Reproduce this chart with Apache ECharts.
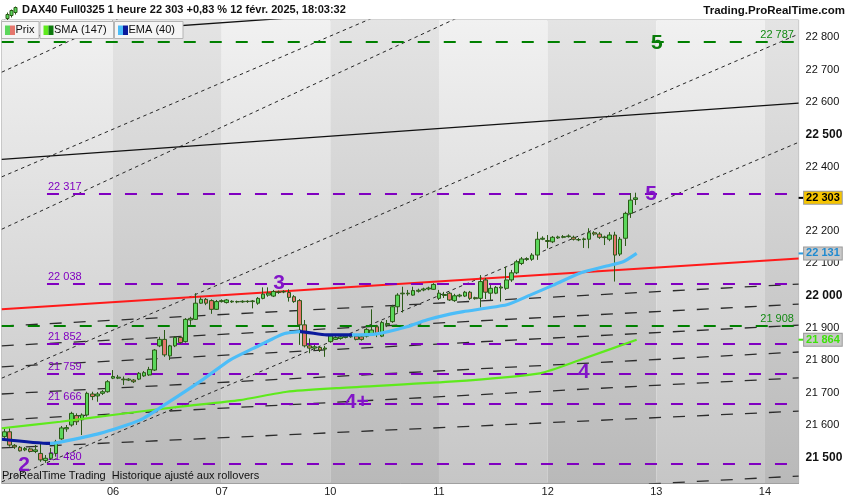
<!DOCTYPE html>
<html>
<head>
<meta charset="utf-8">
<title>DAX40 Full0325 1 heure</title>
<script src="https://cdn.jsdelivr.net/npm/echarts@6/dist/echarts.min.js"></script>
<style>
  html, body { margin: 0; padding: 0; background: #fff; }
  #chart { width: 850px; height: 500px; }
</style>
</head>
<body>
<div id="chart"></div>
<script>
// trading days shown on the axis, 21 hourly bars per day
const days = ['05', '06', '07', '10', '11', '12', '13', '14'];
const barsPerDay = 21;
const barCount = 154;

// hourly candles: [open, close, low, high]
const candles = [
  [21564, 21579, 21559, 21590], [21579, 21538, 21533, 21590], [21537, 21532, 21526, 21541],
  [21531, 21520, 21518, 21535], [21523, 21527, 21519, 21532], [21526, 21518, 21515, 21530],
  [21518, 21523, 21513, 21538], [21512, 21492, 21486, 21543], [21490, 21497, 21483, 21507],
  [21497, 21512, 21492, 21529], [21512, 21548, 21502, 21554], [21557, 21591, 21554, 21597],
  [21588, 21592, 21579, 21600], [21600, 21636, 21595, 21641], [21629, 21610, 21600, 21636],
  [21616, 21631, 21569, 21636], [21631, 21698, 21626, 21703], [21696, 21688, 21677, 21703],
  [21690, 21696, 21672, 21702], [21698, 21703, 21693, 21708], [21703, 21734, 21700, 21739],
  [21745, 21750, 21742, 21770], [21745, 21748, 21742, 21755], [21742, 21740, 21724, 21750],
  [21739, 21742, 21736, 21745], [21739, 21734, 21730, 21742], [21742, 21760, 21739, 21764],
  [21752, 21762, 21749, 21767], [21755, 21772, 21752, 21780], [21770, 21832, 21767, 21835],
  [21845, 21865, 21841, 21873], [21865, 21817, 21811, 21894], [21814, 21845, 21801, 21848],
  [21845, 21871, 21841, 21875], [21871, 21855, 21851, 21875], [21858, 21927, 21855, 21931],
  [21925, 21930, 21910, 21935], [21927, 21977, 21925, 22008], [21977, 21989, 21975, 21995],
  [21989, 21977, 21971, 21993], [21985, 21958, 21944, 21989], [21958, 21982, 21956, 21987],
  [21982, 21985, 21979, 21989], [21979, 21987, 21976, 21990], [21981, 21983, 21978, 21986],
  [21982, 21981, 21977, 21985], [21981, 21983, 21978, 21986], [21983, 21982, 21978, 21986],
  [21982, 21984, 21961, 21987], [21977, 21992, 21972, 21996], [21992, 22005, 21989, 22026],
  [22002, 22008, 21997, 22026], [21999, 22013, 21996, 22018], [22010, 22012, 22006, 22016],
  [22012, 22013, 22008, 22017], [22010, 21995, 21982, 22020], [21997, 21982, 21978, 22002],
  [21985, 21910, 21848, 21990], [21910, 21845, 21840, 21925], [21845, 21838, 21822, 21868],
  [21838, 21842, 21832, 21848], [21840, 21832, 21826, 21845], [21835, 21838, 21811, 21845],
  [21858, 21876, 21855, 21879], [21865, 21871, 21863, 21875], [21868, 21873, 21864, 21877],
  [21871, 21875, 21868, 21879], [21873, 21879, 21870, 21883], [21875, 21865, 21862, 21879],
  [21873, 21865, 21861, 21877], [21875, 21896, 21871, 21900], [21882, 21894, 21879, 21958],
  [21904, 21882, 21872, 21910], [21875, 21917, 21872, 21922], [21910, 21914, 21903, 21925],
  [21920, 21966, 21916, 21972], [21966, 22002, 21948, 22008], [22006, 22008, 21948, 22028],
  [22006, 22008, 22000, 22018], [22002, 22016, 22000, 22028], [22014, 22017, 22010, 22022],
  [22018, 22021, 22014, 22025], [22021, 22024, 22017, 22028], [22020, 22035, 22018, 22039],
  [21992, 22008, 21987, 22018], [22001, 22004, 21993, 22012], [22008, 21987, 21984, 22012],
  [21985, 22000, 21981, 22006], [21999, 22002, 21995, 22006], [21999, 22011, 21996, 22015],
  [22011, 21992, 21987, 22015], [21994, 21991, 21988, 21997], [21992, 22044, 21964, 22064],
  [22049, 22011, 21990, 22055], [22008, 22023, 21987, 22033], [22008, 22026, 22005, 22030],
  [22024, 22027, 21982, 22033], [22023, 22049, 22018, 22090], [22049, 22071, 22043, 22080],
  [22071, 22105, 22067, 22111], [22100, 22114, 22095, 22120], [22112, 22115, 22108, 22119],
  [22113, 22126, 22108, 22132], [22126, 22175, 22111, 22198], [22175, 22178, 22172, 22184],
  [22171, 22168, 22147, 22188], [22167, 22181, 22163, 22185], [22179, 22182, 22176, 22186],
  [22181, 22183, 22178, 22188], [22183, 22185, 22180, 22190], [22181, 22175, 22171, 22186],
  [22174, 22173, 22169, 22179], [22174, 22176, 22148, 22180], [22175, 22195, 22147, 22209],
  [22195, 22191, 22186, 22200], [22191, 22181, 22176, 22197], [22180, 22182, 22157, 22186],
  [22175, 22188, 22169, 22197], [22188, 22126, 22044, 22198], [22129, 22175, 22123, 22182],
  [22178, 22255, 22154, 22260], [22255, 22296, 22241, 22318], [22298, 22303, 22281, 22319]
];

// moving averages: [bar position, value]
const smaPoints = [
  [-0.5, 21590], [10.8, 21610], [22.4, 21634], [34.0, 21657], [45.5, 21677], [54.6, 21703],
  [64.2, 21714], [86.1, 21734], [103.5, 21760], [111.2, 21801], [122.2, 21864]
];
const emaPoints = [
  [-0.5, 21556], [8.8, 21543], [10.8, 21547], [18.5, 21574], [26.2, 21615], [31.4, 21667],
  [38.2, 21739], [43.6, 21801], [48.1, 21837], [53.9, 21882], [57.2, 21889], [62.3, 21879],
  [67.1, 21879], [72.0, 21882], [77.8, 21904], [81.6, 21925], [86.1, 21943], [88.7, 21951],
  [97.1, 21972], [101.6, 22002], [106.1, 22033], [111.2, 22070], [116.4, 22092],
  [119.6, 22105], [122.2, 22131]
];
// stretches where the EMA is drawn in its dark (falling) colour
const emaFalling = [[-0.5, 8.8], [57.2, 67.1]];

// horizontal levels
const purpleLevels = [22317, 22038, 21852, 21759, 21666, 21480];
const greenLevels = [22787, 21908];

// sloped lines: [value at left edge, value at right edge]
const channelLines = [
  [21906, 22036], [21845, 21974], [21780, 21909], [21696, 21826],
  [21616, 21746], [21529, 21643], [21312, 21442]
];
const fanLines = [
  [22692, 23827], [22368, 23425], [22206, 23350], [21745, 22810], [21424, 22475]
];
const blackLines = [[22422, 22596], [22797, 22971]];
const redLine = [21958, 22115];

// wave counts: [text, bar position, value]
const purpleWaves = [['5', 125.0, 22315], ['3', 53.1, 22040], ['4+', 68.1, 21671], ['4', 112.0, 21764], ['2', 3.8, 21476]];
const greenWaves = [['5', 126.1, 22782]];

// last values shown on the price scale
const lastPrice = 22303;
const lastEma = 22131;
const lastSma = 21864;

const yTickValues = [21500, 21600, 21700, 21800, 21900, 22000, 22100, 22200, 22300, 22400, 22500, 22600, 22700, 22800];

const FONT = '"Liberation Sans", Arial, sans-serif';
const PURPLE = '#8000c0';
const GREEN = '#008000';
const X_MIN = -0.5;
const X_MAX = barCount - 0.5;

function fmt(v) {
  const s = String(Math.round(v));
  return s.slice(0, s.length - 3) + ' ' + s.slice(-3);
}

const categories = [];
days.forEach(function (d) {
  for (let h = 1; h <= barsPerDay; h++) categories.push(d + ' ' + h + 'h');
});
categories.length = barCount;

const isDayStart = function (i) { return i > 0 && i % barsPerDay === 0; };

const grad = function (top, bottom) {
  return new echarts.graphic.LinearGradient(0, 0, 0, 1, [
    { offset: 0, color: top }, { offset: 1, color: bottom }
  ]);
};
const bandAreas = [];
for (let k = 0; k < days.length; k++) {
  const from = k === 0 ? X_MIN : k * barsPerDay;
  const to = Math.min((k + 1) * barsPerDay, X_MAX);
  bandAreas.push([
    { xAxis: from, itemStyle: { color: k % 2 ? grad('#e4e4e4', '#b9b9b9') : grad('#f1f1f1', '#c6c6c6') } },
    { xAxis: to }
  ]);
}

function straight(pair, lineStyle, z) {
  return {
    type: 'line', xAxisIndex: 1, yAxisIndex: 0, symbol: 'none', silent: true, z: z,
    data: [[X_MIN, pair[0]], [X_MAX, pair[1]]], lineStyle: lineStyle
  };
}

const levelLines = [];
purpleLevels.forEach(function (v) {
  levelLines.push([
    { coord: [8.24, v], lineStyle: { color: PURPLE, width: 2.2, type: [12, 14] },
      label: { show: true, position: 'insideStartTop', distance: 1, formatter: fmt(v), color: PURPLE, fontSize: 11, fontFamily: FONT } },
    { coord: [151.3, v] }
  ]);
});
greenLevels.forEach(function (v) {
  levelLines.push([
    { coord: [X_MIN, v], lineStyle: { color: GREEN, width: 2.2, type: [12, 14] },
      label: { show: true, position: 'insideEndTop', distance: 1, formatter: fmt(v), color: '#138a13', fontSize: 11, fontFamily: FONT } },
    { coord: [152.8, v] }
  ]);
});

const waveMarks = [];
purpleWaves.forEach(function (w) {
  waveMarks.push({ coord: [w[1], w[2]], label: { formatter: w[0], color: '#8214c8' } });
});
greenWaves.forEach(function (w) {
  waveMarks.push({ coord: [w[1], w[2]], label: { formatter: w[0], color: '#0b7d0b' } });
});

function lastMark(v, tick, bg, fg) {
  return {
    coord: [X_MAX, v], symbol: 'rect', symbolSize: [5, 2], symbolOffset: [2.5, 0],
    itemStyle: { color: tick },
    label: { show: true, position: 'right', distance: 0.5, formatter: fmt(v), color: fg, fontSize: 11, fontFamily: FONT,
      backgroundColor: bg, borderColor: '#9a9a9a', borderWidth: 1, padding: [1, 2, 0, 2] }
  };
}

const series = [];
series.push({
  type: 'line', xAxisIndex: 1, yAxisIndex: 0, data: [], z: 0, silent: true,
  markArea: { silent: true, data: bandAreas }
});
channelLines.forEach(function (p) { series.push(straight(p, { color: '#2c2c2c', width: 1.3, type: [12, 12] }, 1)); });
fanLines.forEach(function (p) { series.push(straight(p, { color: '#262626', width: 1, type: [3.5, 3.5] }, 1)); });
blackLines.forEach(function (p) { series.push(straight(p, { color: '#111', width: 1.3 }, 2)); });
series.push(straight(redLine, { color: '#ff1a1a', width: 2 }, 2));
series.push({
  type: 'line', xAxisIndex: 1, yAxisIndex: 0, data: [], z: 3, silent: true,
  markLine: { symbol: 'none', silent: true, data: levelLines }
});
series.push({
  type: 'candlestick', name: 'Prix', xAxisIndex: 0, yAxisIndex: 0, data: candles, barWidth: 4.2, z: 5, silent: true,
  itemStyle: { color: '#5bd75b', color0: '#e4766c', borderColor: '#2b5b17', borderColor0: '#2b5b17', borderWidth: 1 }
});
series.push({
  type: 'line', name: 'SMA (147)', xAxisIndex: 1, yAxisIndex: 0, data: smaPoints, symbol: 'none', smooth: 0.2,
  silent: true, z: 6, lineStyle: { color: '#5eea1c', width: 2.2 }
});
const emaIndex = series.length;
series.push({
  type: 'line', name: 'EMA (40)', xAxisIndex: 1, yAxisIndex: 0, data: emaPoints, symbol: 'none', smooth: 0.2,
  silent: true, z: 7, lineStyle: { width: 3.2 }
});
series.push({
  type: 'line', xAxisIndex: 1, yAxisIndex: 0, data: [], z: 8, silent: true, clip: false,
  markPoint: {
    silent: true, symbol: 'circle', symbolSize: 0,
    label: { show: true, position: 'inside', fontSize: 21, fontWeight: 'bold', fontFamily: FONT },
    data: waveMarks.concat([
      lastMark(lastPrice, '#000', '#f5c400', '#000'),
      lastMark(lastEma, '#2f9be0', '#c9c9c9', '#1f8ad0'),
      lastMark(lastSma, '#45e010', '#c9c9c9', '#3de20a')
    ])
  }
});

const emaPieces = [];
let cursor = -Infinity;
emaFalling.forEach(function (seg) {
  emaPieces.push({ gte: cursor, lt: seg[0], color: '#4cbdf8' });
  emaPieces.push({ gte: seg[0], lte: seg[1], color: '#0a1a9c' });
  cursor = seg[1];
});
emaPieces.push({ gt: cursor, color: '#4cbdf8' });

// legend boxes drawn above the plot
const legendItems = [
  ['Prix', 1.5, 37.5, '#5bd75b', '#e4766c'],
  ['SMA (147)', 40, 73.5, '#5eea1c', '#0e7a0e'],
  ['EMA (40)', 114.5, 68.5, '#4cbdf8', '#0a1a9c']
];
const legendChildren = [];
legendItems.forEach(function (it) {
  legendChildren.push({ type: 'rect', z: 100, shape: { x: it[1], y: 21.5, width: it[2], height: 17 }, style: { fill: '#f5f5f5', stroke: '#b4b4b4' } });
  legendChildren.push({ type: 'text', z: 101, x: it[1] + 14, y: 24.5, style: { text: it[0], font: '11px ' + FONT, fill: '#111' } });
  legendChildren.push({ type: 'rect', z: 102, shape: { x: it[1] + 3.5, y: 25.5, width: 5, height: 9.5 }, style: { fill: it[3] } });
  legendChildren.push({ type: 'rect', z: 102, shape: { x: it[1] + 8.5, y: 25.5, width: 5, height: 9.5 }, style: { fill: it[4] } });
});

const chart = echarts.init(document.getElementById('chart'), null, { renderer: 'canvas' });
chart.setOption({
  animation: false,
  backgroundColor: '#fff',
  textStyle: { fontFamily: FONT },
  title: {
    text: 'DAX40 Full0325 1 heure 22 303 +0,83 % 12 févr. 2025, 18:03:32',
    left: 22, top: 4, padding: 0,
    textStyle: { fontSize: 11, fontWeight: 'bold', color: '#111', fontFamily: FONT }
  },
  grid: { left: 1.75, right: 51.4, top: 20, bottom: 17, show: true, borderColor: '#a8a8a8', borderWidth: 1, outerBoundsMode: 'none' },
  xAxis: [
    {
      type: 'category', data: categories, boundaryGap: true,
      axisLine: { lineStyle: { color: '#a0a0a0' } },
      axisTick: { interval: isDayStart, alignWithLabel: true, length: 4, lineStyle: { color: '#888' } },
      axisLabel: { interval: isDayStart, formatter: function (v) { return v.slice(0, 2); }, color: '#222', fontSize: 11, margin: 3 },
      splitLine: { show: false }
    },
    { type: 'value', min: X_MIN, max: X_MAX, show: false }
  ],
  yAxis: {
    type: 'value', position: 'right', min: 21420.5, max: 22853.5,
    splitLine: { show: false },
    axisLine: { show: true, lineStyle: { color: '#a0a0a0' } },
    axisTick: { show: true, length: 4, customValues: yTickValues, lineStyle: { color: '#666' } },
    axisLabel: {
      customValues: yTickValues, margin: 7,
      formatter: function (v) { return (v % 500 === 0 ? '{b|' : '{n|') + fmt(v) + '}'; },
      rich: {
        b: { fontSize: 12, fontWeight: 'bold', color: '#111', fontFamily: FONT },
        n: { fontSize: 11, color: '#111', fontFamily: FONT }
      }
    }
  },
  visualMap: { show: false, type: 'piecewise', seriesIndex: emaIndex, dimension: 0, pieces: emaPieces },
  graphic: [
    {
      type: 'group', left: 5, top: 4, children: [
        { type: 'line', shape: { x1: 2, y1: 6, x2: 2, y2: 14 }, style: { stroke: '#2b5b17', lineWidth: 1 } },
        { type: 'rect', shape: { x: 0.5, y: 8, width: 3, height: 4 }, style: { fill: '#5bd75b', stroke: '#2b5b17' } },
        { type: 'line', shape: { x1: 6, y1: 3, x2: 6, y2: 11 }, style: { stroke: '#2b5b17', lineWidth: 1 } },
        { type: 'rect', shape: { x: 4.5, y: 4, width: 3, height: 5 }, style: { fill: '#5bd75b', stroke: '#2b5b17' } },
        { type: 'line', shape: { x1: 10, y1: 0, x2: 10, y2: 8 }, style: { stroke: '#2b5b17', lineWidth: 1 } },
        { type: 'rect', shape: { x: 8.5, y: 1, width: 3, height: 5 }, style: { fill: '#5bd75b', stroke: '#2b5b17' } }
      ]
    },
    {
      type: 'text', right: 5, top: 5,
      style: { text: 'Trading.ProRealTime.com', font: 'bold 11.5px ' + FONT, fill: '#111' }
    },
    { type: 'group', x: 0, y: 0, z: 100, children: legendChildren },
    {
      type: 'text', left: 2, top: 470, z: 100,
      style: { text: 'ProRealTime Trading  Historique ajusté aux rollovers', font: '11px ' + FONT, fill: '#111' }
    }
  ],
  series: series
});
</script>
</body>
</html>
